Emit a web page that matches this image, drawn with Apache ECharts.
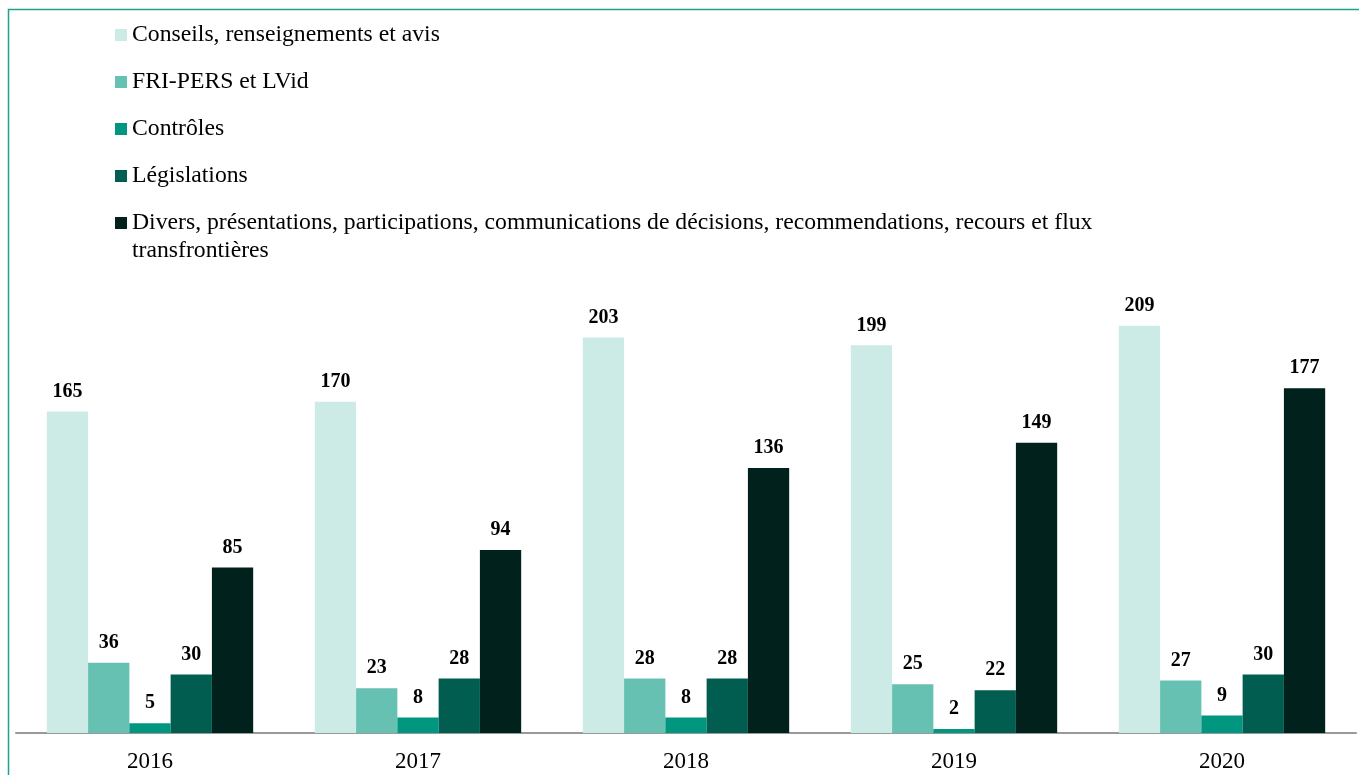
<!DOCTYPE html>
<html>
<head>
<meta charset="utf-8">
<script src="https://cdn.jsdelivr.net/npm/echarts@6/dist/echarts.min.js"></script>
<style>
html, body { margin: 0; padding: 0; background: #fff; }
#chart-area { width: 1359px; height: 775px; }
</style>
</head>
<body>
<div id="chart-area"></div>
<script>
var years = ['2016', '2017', '2018', '2019', '2020'];
var seriesNames = [
	'Conseils, renseignements et avis',
	'FRI-PERS et LVid',
	'Contrôles',
	'Législations',
	'Divers, présentations, participations, communications de décisions, recommendations, recours et flux transfrontières'
];
var conseils = [165, 170, 203, 199, 209];
var friPers = [36, 23, 28, 25, 27];
var controles = [5, 8, 8, 2, 9];
var legislations = [30, 28, 28, 22, 30];
var divers = [85, 94, 136, 149, 177];
var colors = ['#cdebe6', '#66c1b2', '#00967f', '#005d50', '#01211d'];

var myChart = echarts.init(document.getElementById('chart-area'));
var font = '"Liberation Serif", "Times New Roman", serif';
var values = [conseils, friPers, controles, legislations, divers];

var series = [];
for (var i = 0; i < values.length; i++) {
	series.push({
		name: seriesNames[i],
		type: 'bar',
		data: values[i],
		barGap: 0,
		barCategoryGap: '23%',
		itemStyle: { color: colors[i] },
		label: {
			show: true,
			position: 'top',
			distance: 10,
			color: '#000',
			fontFamily: font,
			fontWeight: 'bold',
			fontSize: 20
		}
	});
}

option = {
	animation: false,
	color: colors,
	graphic: [{
		type: 'rect',
		shape: { x: 8.5, y: 9.5, width: 1400, height: 800 },
		style: { fill: 'none', stroke: '#20a08e', lineWidth: 1.5 },
		silent: true
	}, {
		//suite du dernier élément de la légende
		type: 'text',
		left: 132,
		top: 239,
		style: {
			text: 'transfrontières',
			fill: '#000',
			font: '23.7px ' + font
		},
		silent: true
	}],
	legend: {
		orient: 'vertical',
		left: 115,
		top: 23,
		padding: 0,
		itemWidth: 12,
		itemHeight: 12,
		itemGap: 23,
		icon: 'rect',
		data: seriesNames,
		formatter: function (name) {
			if (name.indexOf('Divers') == 0) {
				return name.replace(' transfrontières', '');
			}
			return name;
		},
		textStyle: {
			fontFamily: font,
			fontSize: 23.7,
			color: '#000',
			lineHeight: 23
		}
	},
	grid: {
		left: 16,
		right: 3,
		top: 246,
		bottom: 42,
		containLabel: false
	},
	xAxis: {
		type: 'category',
		data: years,
		axisTick: { show: false },
		axisLine: { lineStyle: { color: '#999', width: 2 } },
		axisLabel: {
			color: '#000',
			fontFamily: font,
			fontSize: 23,
			margin: 17
		}
	},
	yAxis: {
		type: 'value',
		min: 0,
		max: 250,
		show: false,
		splitLine: { show: false }
	},
	series: series
};
myChart.setOption(option);
</script>
</body>
</html>
